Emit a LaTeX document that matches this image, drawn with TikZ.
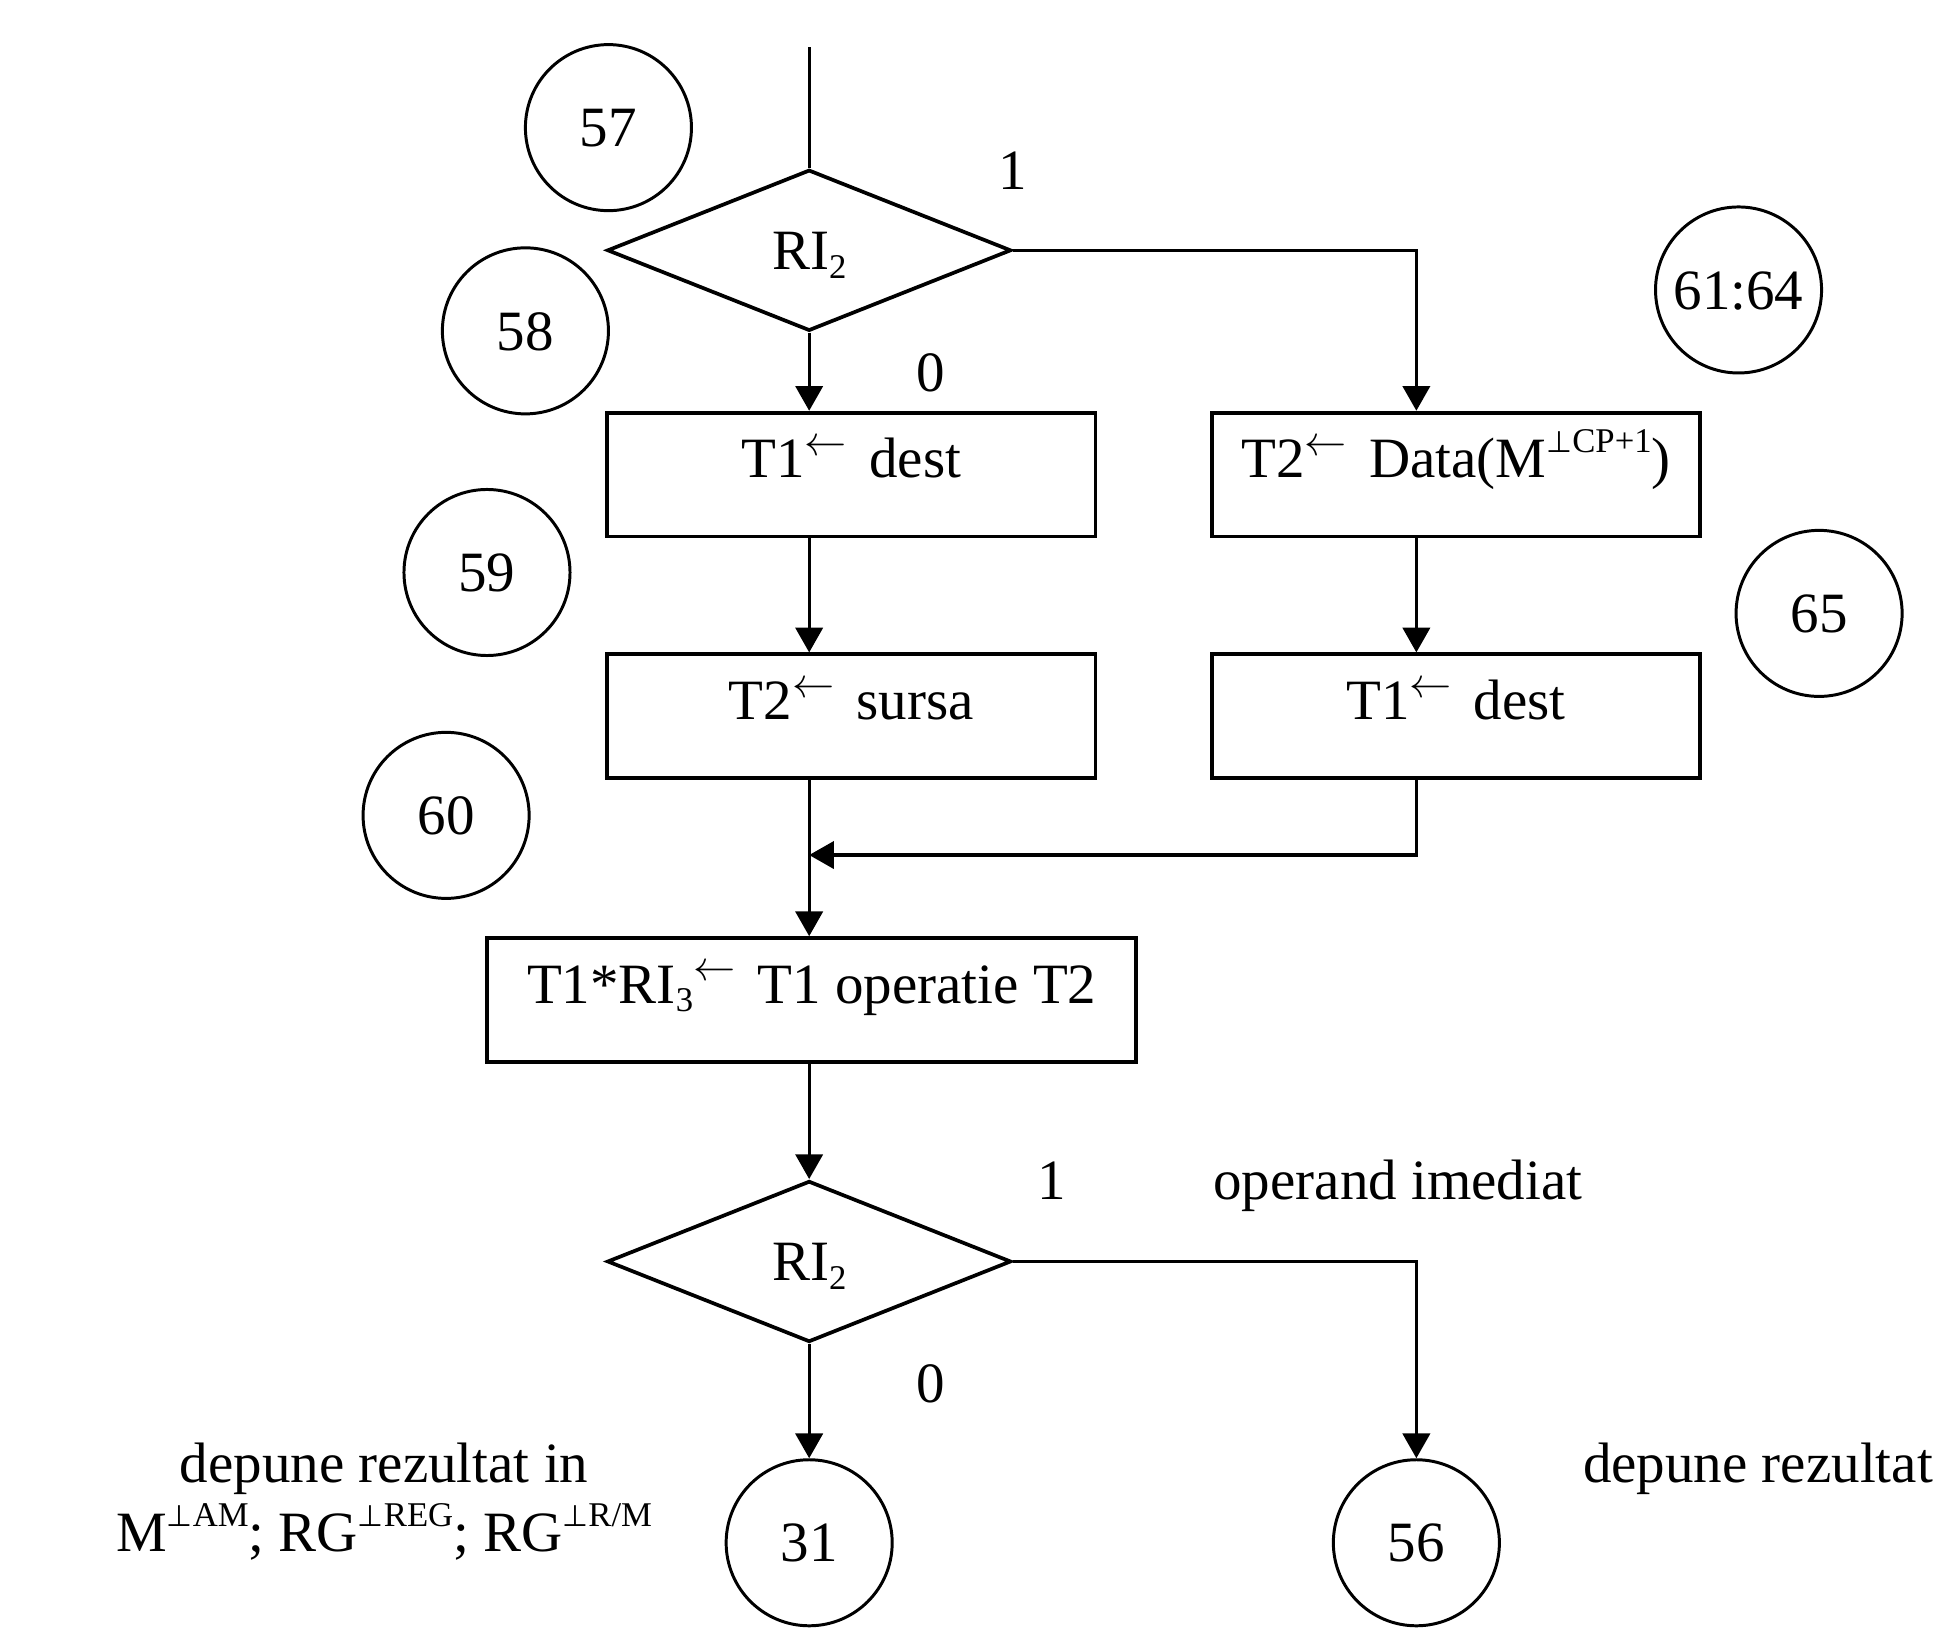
\documentclass[tikz,border=0pt]{standalone}
\usepackage{fontspec}
\usepackage{graphicx}
\setmainfont{Liberation Serif}
\newfontfamily\dejavu{DejaVu Sans}
\usetikzlibrary{arrows.meta,shapes.geometric}
\newcommand\larr{\raisebox{18pt}{\scalebox{3.4}{\fontsize{10}{12}\selectfont$\leftarrow$}}}
\newcommand\subt[1]{\raisebox{-7pt}{\fontsize{28}{28}\selectfont #1}}
\newcommand\perpsup[1]{\raisebox{20pt}{{\fontsize{24}{24}\dejavu ⊥}\fontsize{28}{28}\selectfont #1}}
\begin{document}
\begin{tikzpicture}[x=1pt,y=-1pt,
  every node/.style={font=\fontsize{46}{55}\selectfont},
  box/.style={draw,rectangle,line width=3pt,minimum height=100pt,inner sep=0pt,text height=30pt,text depth=25pt},
  dia/.style={draw,diamond,line width=3pt,minimum width=326pt,minimum height=130pt,inner sep=0pt,aspect=2.5,text height=31pt,text depth=0pt},
  num/.style={draw,circle,line width=2.4pt,minimum size=134pt,inner sep=0pt,text height=31pt,text depth=0pt},
  conn/.style={line width=2.6pt},
  arr/.style={conn,-{Triangle[length=20pt,width=22pt]}},
  lbl/.style={anchor=base,inner sep=0pt}]
\useasboundingbox (0,0) rectangle (1568,1325);

% decision 1
\coordinate (start) at (653,38);
\node[dia] (d1) at (653,202) {RI\subt{2}};

% boxes
\node[box,minimum width=394pt] (b1) at (687,383) {T1\larr\hspace{18pt}dest};
\node[box,minimum width=394pt] (b2) at (1175,383) {T2\larr\hspace{18pt}Data(M\perpsup{CP+1})};
\node[box,minimum width=394pt] (b3) at (687,578) {T2\larr\hspace{18pt}sursa};
\node[box,minimum width=394pt] (b4) at (1175,578) {T1\larr\hspace{18pt}dest};
\node[box,minimum width=524pt] (b5) at (655,807) {T1*RI\subt{3}\larr\hspace{18pt}T1 operatie T2};

% decision 2
\node[dia] (d2) at (653,1018) {RI\subt{2}};

% circles
\node[num] (c57) at (491,103) {57};
\node[num] (c58) at (424,267) {58};
\node[num] (c59) at (393,462) {59};
\node[num] (c60) at (360,658) {60};
\node[num] (c6164) at (1403,234) {61:64};
\node[num] (c65) at (1468,495) {65};
\node[num] (c31) at (653,1245) {31};
\node[num] (c56) at (1143,1245) {56};

\coordinate (m) at (653,690);

% labels
\node[lbl] (l1a) at (817,153) {1};
\node[lbl] (l0a) at (751,316) {0};
\node[lbl] (l1b) at (849,968) {1};
\node[lbl,anchor=base west] (lop) at (979,968) {operand imediat};
\node[lbl] (l0b) at (751,1132) {0};
\node[lbl] (dl1) at (310,1196) {depune rezultat in};
\node[lbl] (dl2) at (310,1252) {M\perpsup{AM}; RG\perpsup{REG}; RG\perpsup{R/M}};
\node[lbl,anchor=base east] (dr) at (1560,1196) {depune rezultat};

% connectors
\draw[conn] (start) -- (d1.north);
\draw[arr] (d1.south) -- (d1.south |- b1.north);
\draw[arr] (d1.east) -| (c56 |- b2.north);
\draw[arr] (d1 |- b1.south) -- (d1 |- b3.north);
\draw[arr] (c56 |- b2.south) -- (c56 |- b4.north);
\draw[arr] (c56 |- b4.south) |- (m);
\draw[arr] (d1 |- b3.south) -- (d1 |- b5.north);
\draw[arr] (d1 |- b5.south) -- (d2.north);
\draw[arr] (d2.south) -- (c31.north);
\draw[arr] (d2.east) -| (c56.north);
\end{tikzpicture}
\end{document}
